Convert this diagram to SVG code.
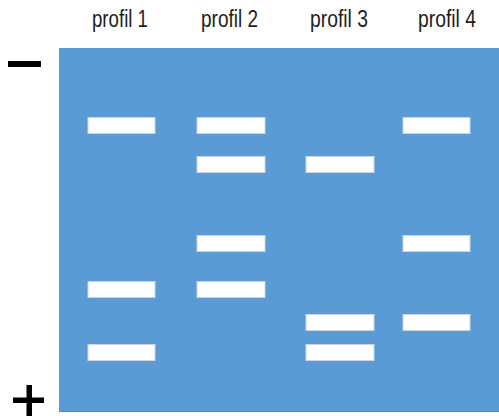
<svg xmlns="http://www.w3.org/2000/svg" width="499" height="416" viewBox="0 0 499 416">
  <style>
    .gel { fill: #5b9bd5; }
    .band { fill: #ffffff; stroke: #c9d6e3; stroke-width: 1; }
    .lbl { font-family: "Liberation Sans", Arial, sans-serif; font-size: 23px; fill: #1e1e1e; text-anchor: middle; }
    .pole { fill: #000000; }
  </style>
  <!-- gel slab -->
  <g id="gel">
    <rect class="gel" x="59" y="48" width="440" height="364"/>
    <line x1="59" y1="411.5" x2="499" y2="411.5" stroke="#4f8cc4" stroke-width="1"/>
  </g>
  <!-- electrode poles -->
  <g id="pole-minus">
    <rect class="pole" x="8" y="61" width="33" height="6"/>
  </g>
  <g id="pole-plus">
    <rect class="pole" x="13" y="397.5" width="31" height="5.5"/>
    <rect class="pole" x="26.5" y="385" width="5.5" height="31"/>
  </g>
  <!-- lane headers -->
  <g id="labels">
    <text class="lbl" x="120" y="27" textLength="56" lengthAdjust="spacingAndGlyphs">profil 1</text>
    <text class="lbl" x="229.5" y="27" textLength="57" lengthAdjust="spacingAndGlyphs">profil 2</text>
    <text class="lbl" x="339" y="27" textLength="58" lengthAdjust="spacingAndGlyphs">profil 3</text>
    <text class="lbl" x="447" y="27" textLength="58" lengthAdjust="spacingAndGlyphs">profil 4</text>
  </g>
  <!-- lane 1 -->
  <g id="lane-1">
    <rect class="band" x="88" y="117.5" width="67" height="16"/>
    <rect class="band" x="88" y="281.5" width="67" height="16"/>
    <rect class="band" x="88" y="344.5" width="67" height="16"/>
  </g>
  <!-- lane 2 -->
  <g id="lane-2">
    <rect class="band" x="197" y="117.5" width="68" height="16"/>
    <rect class="band" x="197" y="156.5" width="68" height="16"/>
    <rect class="band" x="197" y="235.5" width="68" height="16"/>
    <rect class="band" x="197" y="281.5" width="68" height="16"/>
  </g>
  <!-- lane 3 -->
  <g id="lane-3">
    <rect class="band" x="306" y="156.5" width="68" height="16"/>
    <rect class="band" x="306" y="314.5" width="68" height="16"/>
    <rect class="band" x="306" y="344.5" width="68" height="16"/>
  </g>
  <!-- lane 4 -->
  <g id="lane-4">
    <rect class="band" x="403" y="117.5" width="67" height="16"/>
    <rect class="band" x="403" y="235.5" width="67" height="16"/>
    <rect class="band" x="403" y="314.5" width="67" height="16"/>
  </g>
</svg>
